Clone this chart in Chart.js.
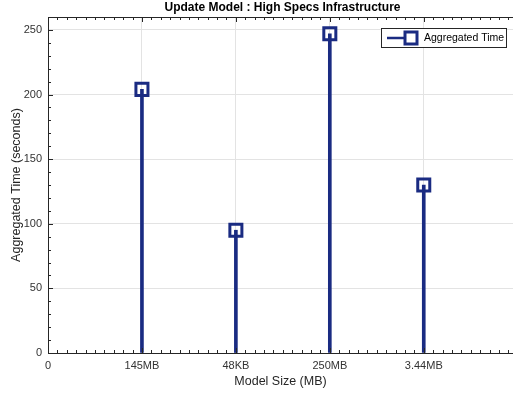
<!DOCTYPE html>
<html>
<head>
<meta charset="utf-8">
<script src="https://cdn.jsdelivr.net/npm/chart.js@4.4.1/dist/chart.umd.min.js"></script>
<style>
  html, body { margin: 0; padding: 0; background: #fff; }
  #wrap { width: 513px; height: 394px; position: relative; }
</style>
</head>
<body>
<div id="wrap"><canvas id="chart"></canvas></div>
<script>
// stem plot data
const categories = ['145MB', '48KB', '250MB', '3.44MB'];
const aggregatedTime = [204, 95, 247, 130];
const xTickValues = [0, 1, 2, 3, 4];
const yTickValues = [0, 50, 100, 150, 200, 250];

const TITLE = 'Update Model : High Specs Infrastructure';
const SERIES_LABEL = 'Aggregated Time';
const NAVY = '#1a2b82';
const AXIS = '#262626';
const FONT = 'Arial, "Liberation Sans", Helvetica, sans-serif';

const points = categories.map((c, i) => ({ x: i + 1, y: aggregatedTime[i] }));

// minor ticks (inward), top box line, title and legend, MATLAB style
const matlabDecor = {
  id: 'matlabDecor',
  afterDraw(chart) {
    const { ctx, chartArea: { left, right, top, bottom }, scales: { x, y } } = chart;
    ctx.save();
    ctx.strokeStyle = AXIS;
    ctx.lineWidth = 1;
    ctx.beginPath();
    // top box line
    ctx.moveTo(left, Math.round(top) + 0.5);
    ctx.lineTo(right, Math.round(top) + 0.5);
    // x ticks
    for (let i = 0; i / 10 <= x.max; i++) {
      const px = Math.round(x.getPixelForValue(i / 10)) + 0.5;
      const len = i % 10 === 0 ? 5 : 3;
      ctx.moveTo(px, bottom); ctx.lineTo(px, bottom - len);
      ctx.moveTo(px, top); ctx.lineTo(px, top + len);
    }
    // y ticks
    for (let i = 0; i * 10 <= y.max; i++) {
      const py = Math.round(y.getPixelForValue(i * 10)) + 0.5;
      const len = i % 5 === 0 ? 5 : 3;
      ctx.moveTo(left, py); ctx.lineTo(left + len, py);
    }
    ctx.stroke();

    // title
    ctx.fillStyle = '#000';
    ctx.font = 'bold 12px ' + FONT;
    ctx.textAlign = 'center';
    ctx.textBaseline = 'middle';
    ctx.fillText(TITLE, (left + right) / 2 + 2, 8);

    // legend
    const bx = 381.5, by = 28.5, bw = 125, bh = 19;
    ctx.fillStyle = '#fff';
    ctx.fillRect(bx, by, bw, bh);
    ctx.strokeStyle = AXIS;
    ctx.strokeRect(bx, by, bw, bh);
    const cy = by + bh / 2;
    ctx.strokeStyle = NAVY;
    ctx.lineWidth = 2.5;
    ctx.beginPath();
    ctx.moveTo(387, cy); ctx.lineTo(405, cy);
    ctx.stroke();
    ctx.lineWidth = 3;
    ctx.strokeRect(405, cy - 6, 12, 12);
    ctx.fillStyle = '#000';
    ctx.font = '10.5px ' + FONT;
    ctx.textAlign = 'left';
    ctx.fillText(SERIES_LABEL, 424, cy + 0.5);
    ctx.restore();
  }
};

new Chart(document.getElementById('chart'), {
  type: 'bar',
  data: {
    datasets: [
      {
        type: 'line',
        label: SERIES_LABEL,
        data: points,
        showLine: false,
        pointStyle: 'rect',
        pointRadius: 8.5,
        pointBorderWidth: 3,
        pointBorderColor: NAVY,
        pointBackgroundColor: 'rgba(0,0,0,0)',
        order: 0,
      },
      {
        type: 'bar',
        label: 'stem',
        data: points,
        backgroundColor: NAVY,
        barThickness: 3,
        grouped: false,
        order: 1,
      },
    ],
  },
  options: {
    responsive: true,
    maintainAspectRatio: false,
    animation: false,
    layout: { autoPadding: false, padding: { top: 17, right: 0, left: 0, bottom: 0 } },
    plugins: {
      legend: { display: false },
      title: { display: false },
      tooltip: { enabled: false },
    },
    scales: {
      x: {
        type: 'linear',
        min: 0,
        max: 4.95,
        offset: false,
        afterBuildTicks: s => { s.ticks = xTickValues.map(v => ({ value: v })); },
        afterFit: s => { s.height = 41; s.paddingLeft = 0; s.paddingRight = 0; },
        grid: { color: '#e3e3e3', drawTicks: false, offset: false },
        border: { display: true, color: AXIS },
        ticks: {
          color: '#333',
          font: { family: FONT, size: 11 },
          padding: 6,
          maxRotation: 0,
          autoSkip: false,
          callback: v => (v === 0 ? '0' : categories[v - 1] || ''),
        },
        title: {
          display: true,
          text: 'Model Size (MB)',
          color: AXIS,
          font: { family: FONT, size: 12.5 },
          padding: { top: 4, bottom: 5 },
        },
      },
      y: {
        min: 0,
        max: 260,
        afterBuildTicks: s => { s.ticks = yTickValues.map(v => ({ value: v })); },
        afterFit: s => { s.width = 48; },
        grid: { color: '#e3e3e3', drawTicks: false },
        border: { display: true, color: AXIS },
        ticks: {
          color: '#333',
          font: { family: FONT, size: 11 },
          padding: 6,
        },
        title: {
          display: true,
          text: 'Aggregated Time (seconds)',
          color: AXIS,
          font: { family: FONT, size: 12.5 },
          padding: { top: 9, bottom: 0 },
        },
      },
    },
  },
  plugins: [matlabDecor],
});
</script>
</body>
</html>
